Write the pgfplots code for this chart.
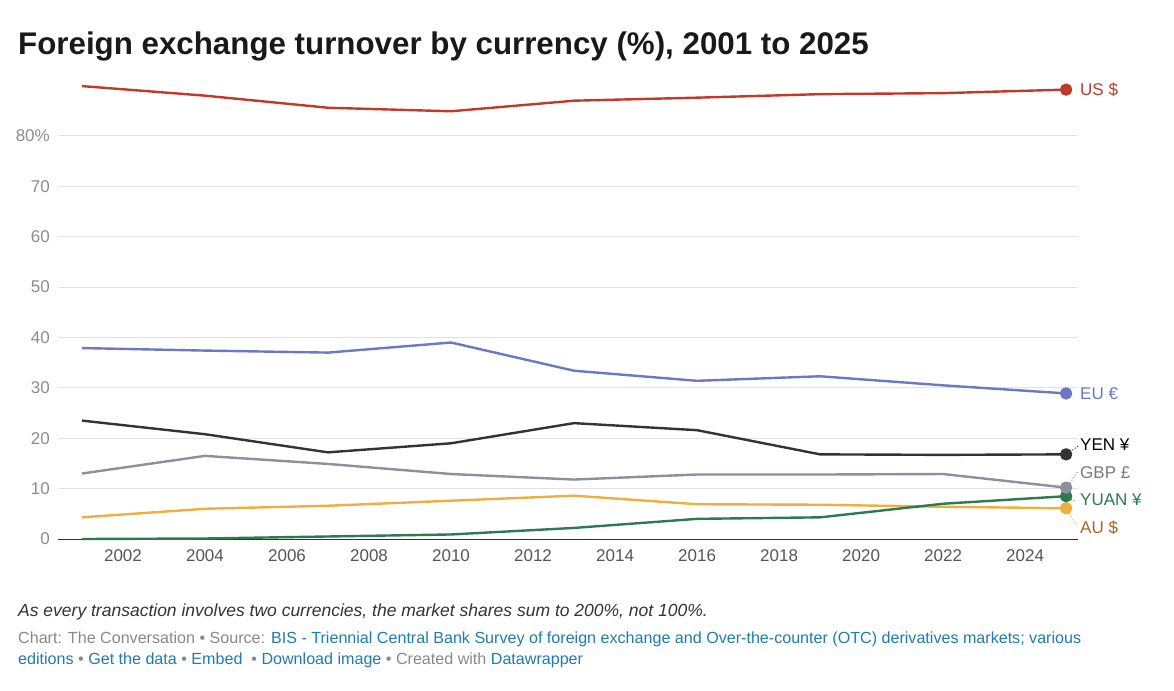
\documentclass[border=0pt]{standalone}
\usepackage{pgfplots}
\pgfplotsset{compat=1.18}
\usepackage{fontspec}
\setmainfont{Liberation Sans}

\definecolor{usd}{HTML}{C0392B}
\definecolor{eur}{HTML}{6B78C2}
\definecolor{jpy}{HTML}{333333}
\definecolor{gbp}{HTML}{8E8E9C}
\definecolor{cny}{HTML}{2B7A50}
\definecolor{aud}{HTML}{F0AE3C}
\definecolor{audtxt}{HTML}{A8661C}
\definecolor{gridc}{HTML}{E2E2E2}
\definecolor{ytk}{HTML}{8C8C8C}
\definecolor{xtk}{HTML}{555555}
\definecolor{src}{HTML}{888888}
\definecolor{lnk}{HTML}{1F7BB0}

\begin{document}
\begin{tikzpicture}
\useasboundingbox (0,0) rectangle (1174pt,-690pt);

% title
\node[anchor=base west, inner sep=0, font=\fontsize{31.3}{34}\selectfont\bfseries, text=black!90]
  at (18pt,-55pt) {Foreign exchange turnover by currency (\%), 2001 to 2025};

\begin{axis}[
  at={(58pt,-539pt)}, anchor=south west,
  scale only axis,
  width=1020pt, height=463.5pt,
  xmin=2000.415, xmax=2025.29,
  ymin=0, ymax=92,
  clip=false,
  axis line style={draw=none},
  major tick length=0pt,
  xtick={2002,2004,...,2024},
  xticklabels={2002,2004,2006,2008,2010,2012,2014,2016,2018,2020,2022,2024},
  ytick={0,10,...,80},
  yticklabels={0,10,20,30,40,50,60,70,80\%},
  ymajorgrids,
  grid style={gridc, line width=1pt},
  yticklabel style={anchor=east, inner sep=0pt, xshift=-8pt, text=ytk,
    font=\fontsize{17}{19}\selectfont},
  xticklabel style={anchor=north, inner sep=0pt, yshift=-10pt, text=xtk,
    font=\fontsize{17}{19}\selectfont},
  every axis plot/.append style={line width=2.4pt, line join=round},
  mark options={solid},
]
\draw[black!80, line width=1pt] (axis cs:2000.415,0) -- (axis cs:2025.29,0);

% AU $
\addplot[aud, mark=*, mark indices={9}, mark size=5pt] coordinates {
  (2001,4.3) (2004,6.0) (2007,6.6) (2010,7.6) (2013,8.6)
  (2016,6.9) (2019,6.8) (2022,6.4) (2025,6.1)
};
% YUAN
\addplot[cny, mark=*, mark indices={9}, mark size=5pt] coordinates {
  (2001,0.0) (2004,0.1) (2007,0.5) (2010,0.9) (2013,2.2)
  (2016,4.0) (2019,4.3) (2022,7.0) (2025,8.5)
};
% GBP
\addplot[gbp, mark=*, mark indices={9}, mark size=5pt] coordinates {
  (2001,13.0) (2004,16.5) (2007,14.9) (2010,12.9) (2013,11.8)
  (2016,12.8) (2019,12.8) (2022,12.9) (2025,10.2)
};
% YEN
\addplot[jpy, mark=*, mark indices={9}, mark size=5pt] coordinates {
  (2001,23.5) (2004,20.8) (2007,17.2) (2010,19.0) (2013,23.0)
  (2016,21.6) (2019,16.8) (2022,16.7) (2025,16.8)
};
% EU
\addplot[eur, mark=*, mark indices={9}, mark size=5pt] coordinates {
  (2001,37.9) (2004,37.4) (2007,37.0) (2010,39.0) (2013,33.4)
  (2016,31.4) (2019,32.3) (2022,30.5) (2025,28.9)
};
% US
\addplot[usd, mark=*, mark indices={9}, mark size=5pt] coordinates {
  (2001,89.9) (2004,88.0) (2007,85.6) (2010,84.9) (2013,87.0)
  (2016,87.6) (2019,88.3) (2022,88.5) (2025,89.2)
};
\end{axis}

% leader lines
\draw[jpy, dotted, line width=1pt] (1070pt,-452pt) -- (1078pt,-446pt);
\draw[gbp, dotted, line width=1pt] (1070pt,-483pt) -- (1078pt,-471pt);
\draw[cny, dotted, line width=1pt] (1071pt,-499pt) -- (1076pt,-502pt);
\draw[aud, dotted, line width=1pt] (1069pt,-514pt) -- (1078pt,-526pt);

% series labels
\begin{scope}[every node/.style={anchor=west, inner sep=0pt, font=\fontsize{17}{20}\selectfont}]
\node[text=usd] at (1080pt,-90pt) {US \$};
\node[text=eur] at (1080pt,-394pt) {EU €};
\node[text=black] at (1080pt,-445pt) {YEN ¥};
\node[text=gbp!85!black] at (1080pt,-473pt) {GBP £};
\node[text=cny] at (1080pt,-500pt) {YUAN ¥};
\node[text=audtxt] at (1080pt,-528pt) {AU \$};
\end{scope}

% notes
\node[anchor=base west, inner sep=0, font=\fontsize{17.5}{19}\selectfont\itshape, text=black!80]
  at (18pt,-616pt) {As every transaction involves two currencies, the market shares sum to 200\%, not 100\%.};
\node[anchor=base west, inner sep=0, font=\fontsize{16.1}{18}\selectfont, text=src]
  at (18pt,-643pt) {Chart: The Conversation • Source: \textcolor{lnk}{BIS - Triennial Central Bank Survey of foreign exchange and Over-the-counter (OTC) derivatives markets; various}};
\node[anchor=base west, inner sep=0, font=\fontsize{16.1}{18}\selectfont, text=src]
  at (18pt,-664pt) {\textcolor{lnk}{editions} • \textcolor{lnk}{Get the data} • \textcolor{lnk}{Embed} \ • \textcolor{lnk}{Download image} • Created with \textcolor{lnk}{Datawrapper}};
\end{tikzpicture}
\end{document}
